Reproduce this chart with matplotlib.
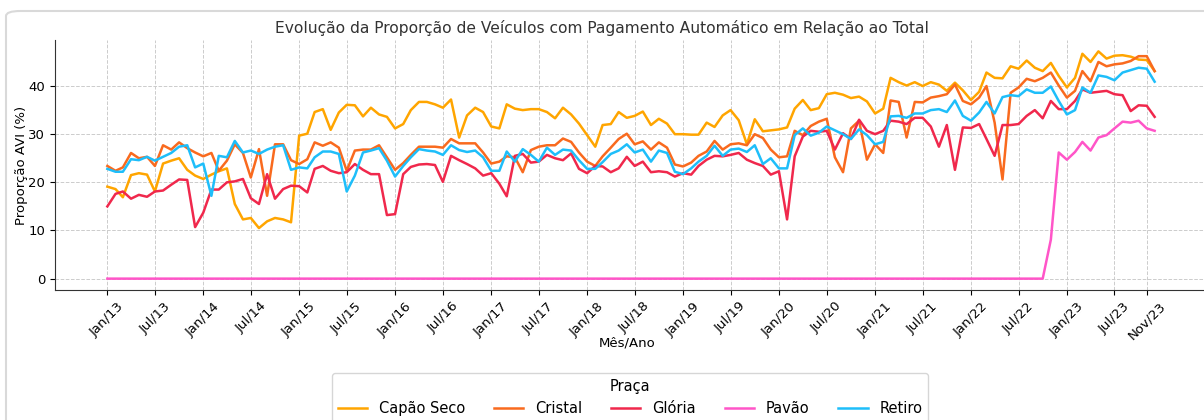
import pandas as pd
import matplotlib
matplotlib.use("Agg")
import matplotlib.pyplot as plt
from matplotlib.patches import FancyBboxPatch

# monthly AVI share (%) per toll plaza, Jan/2013 .. Dec/2023
capao_seco = [
    19.1, 18.6, 16.9, 21.5, 21.9, 21.6, 18.1, 23.9, 24.5, 25.0, 22.6, 21.4,
    20.7, 21.6, 22.3, 22.9, 15.5, 12.3, 12.6, 10.5, 11.9, 12.6, 12.3, 11.7,
    29.7, 30.1, 34.6, 35.2, 30.9, 34.5, 36.1, 36.0, 33.7, 35.5, 34.1, 33.6,
    31.2, 32.1, 35.0, 36.7, 36.7, 36.2, 35.5, 37.2, 29.3, 33.9, 35.5, 34.6,
    31.6, 31.2, 36.2, 35.3, 35.0, 35.2, 35.2, 34.6, 33.3, 35.5, 34.1, 32.2,
    29.8, 27.4, 31.9, 32.1, 34.6, 33.4, 33.8, 34.7, 31.9, 33.2, 32.2, 30.0,
    30.0, 29.9, 29.9, 32.4, 31.5, 33.9, 35.0, 32.9, 27.9, 33.1, 30.6, 30.8,
    31.0, 31.4, 35.3, 37.1, 35.0, 35.4, 38.3, 38.6, 38.2, 37.5, 37.8, 36.8,
    34.3, 35.3, 41.7, 40.8, 40.1, 40.8, 40.0, 40.8, 40.3, 39.0, 40.7, 39.1,
    37.1, 38.8, 42.8, 41.7, 41.6, 44.1, 43.6, 45.3, 43.8, 43.1, 44.8, 42.1,
    39.7, 41.7, 46.7, 45.0, 47.2, 45.7, 46.3, 46.4, 46.1, 45.5, 45.4, 43.1,
]
cristal = [
    23.4, 22.4, 23.1, 26.1, 25.0, 25.3, 23.4, 27.7, 26.8, 28.3, 27.1, 26.2,
    25.4, 26.1, 22.4, 24.5, 27.9, 26.1, 21.0, 26.9, 17.2, 27.9, 27.9, 24.6,
    23.8, 24.8, 28.3, 27.6, 28.3, 27.2, 22.4, 26.6, 26.8, 26.8, 27.7, 25.2,
    22.6, 24.0, 25.7, 27.4, 27.4, 27.4, 27.2, 29.0, 28.1, 28.1, 28.1, 26.2,
    23.9, 24.3, 25.4, 25.2, 22.1, 26.7, 27.4, 27.7, 27.7, 29.1, 28.4, 26.2,
    24.3, 23.4, 25.4, 27.2, 29.0, 30.1, 27.9, 28.5, 26.8, 28.3, 27.2, 23.7,
    23.3, 24.1, 25.5, 26.4, 28.6, 26.8, 27.9, 28.1, 27.7, 30.0, 29.2, 26.8,
    25.2, 25.4, 30.7, 29.8, 31.7, 32.6, 33.2, 25.2, 22.1, 31.2, 32.8, 24.7,
    27.9, 26.1, 37.0, 36.7, 29.3, 36.7, 36.6, 37.6, 37.9, 38.3, 40.3, 36.9,
    36.2, 37.6, 40.0, 32.4, 20.6, 38.6, 39.7, 41.5, 41.0, 41.7, 42.8, 40.1,
    37.6, 39.0, 43.1, 41.0, 45.0, 44.1, 44.5, 44.7, 45.2, 46.2, 46.2, 43.1,
]
gloria = [
    15.0, 17.6, 18.1, 16.6, 17.4, 17.0, 18.1, 18.3, 19.5, 20.6, 20.5, 10.7,
    13.7, 18.5, 18.5, 20.0, 20.2, 20.7, 16.7, 15.5, 21.7, 16.6, 18.6, 19.3,
    19.2, 17.9, 22.8, 23.4, 22.4, 21.9, 22.1, 23.8, 22.6, 21.7, 21.7, 13.2,
    13.4, 21.7, 23.2, 23.7, 23.8, 23.6, 20.1, 25.5, 24.6, 23.8, 22.9, 21.4,
    21.9, 19.7, 17.1, 25.5, 25.9, 24.1, 24.3, 25.7, 25.0, 24.6, 26.0, 22.8,
    21.9, 23.4, 23.3, 22.1, 22.9, 25.3, 23.4, 24.3, 22.1, 22.3, 22.1, 21.2,
    21.9, 21.6, 23.4, 24.7, 25.5, 25.4, 25.7, 26.1, 24.7, 24.0, 23.4, 21.6,
    22.3, 12.3, 25.4, 29.5, 30.7, 30.5, 30.7, 26.8, 30.2, 29.0, 33.0, 30.7,
    30.0, 30.7, 32.8, 32.6, 32.1, 33.4, 33.4, 31.6, 27.4, 31.9, 22.6, 31.4,
    31.3, 32.1, 29.0, 25.5, 31.9, 31.9, 32.1, 33.8, 35.0, 33.3, 36.9, 35.2,
    35.2, 36.9, 39.3, 38.6, 38.8, 39.0, 38.3, 38.1, 34.8, 36.0, 35.9, 33.6,
]
pavao = [0.0] * 118 + [
    8.1, 26.2, 24.7, 26.3, 28.4, 26.6, 29.3, 29.8, 31.2, 32.6, 32.4, 32.8, 31.2, 30.7,
]
retiro = [
    22.8, 22.2, 22.2, 24.8, 24.6, 25.3, 24.5, 25.3, 26.1, 27.4, 27.7, 23.1,
    23.9, 17.2, 25.5, 25.2, 28.6, 26.2, 26.6, 25.9, 26.8, 27.4, 27.7, 22.6,
    23.1, 22.9, 25.2, 26.4, 26.4, 25.9, 18.1, 21.4, 26.2, 26.6, 27.1, 24.5,
    21.2, 23.4, 25.2, 26.9, 26.6, 26.4, 25.7, 27.7, 26.7, 26.3, 26.6, 25.2,
    22.4, 22.4, 26.4, 24.3, 26.9, 25.7, 24.3, 27.2, 25.7, 26.8, 26.6, 24.6,
    22.8, 22.8, 24.2, 25.9, 26.6, 27.9, 26.2, 26.8, 24.3, 26.6, 26.1, 22.2,
    21.7, 22.9, 24.3, 25.5, 27.6, 25.5, 26.8, 27.0, 26.3, 27.7, 23.8, 25.0,
    22.9, 22.9, 29.8, 31.2, 29.7, 30.3, 31.6, 30.8, 30.0, 29.0, 31.0, 29.8,
    27.9, 28.4, 33.7, 33.8, 33.4, 34.3, 34.3, 35.0, 35.2, 34.6, 37.0, 33.8,
    32.8, 34.5, 36.7, 34.3, 37.7, 38.1, 37.9, 39.3, 38.6, 38.6, 39.9, 36.9,
    34.1, 35.0, 39.7, 38.6, 42.2, 41.9, 41.2, 42.8, 43.3, 43.8, 43.6, 40.9,
]

pracas = ["Capão Seco", "Cristal", "Glória", "Pavão", "Retiro"]
cores = ["#FFA500", "#F96A1E", "#F0284C", "#FF55C8", "#1EBEFA"]

meses = pd.date_range("2013-01-01", periods=132, freq="MS")
ticks = [d for d in meses if d.month in (1, 7) and d <= pd.Timestamp("2023-07-01")]
ticks.append(pd.Timestamp("2023-11-01"))


def main():
    fig = plt.figure(figsize=(12.04, 4.2), dpi=100)

    # light frame around the output (screenshot border)
    borda = FancyBboxPatch((6 / 1204, -0.1), 1.1, 1 - 11 / 420 + 0.1,
                           boxstyle="round,pad=0,rounding_size=0.012",
                           transform=fig.transFigure, facecolor="none",
                           edgecolor="#d9d9d9", linewidth=1.5)
    fig.patches.append(borda)

    ax = fig.add_axes([55 / 1204, 1 - 290 / 420, 1152 / 1204, 250 / 420])

    series = [capao_seco, cristal, gloria, pavao, retiro]
    for nome, cor, valores in zip(pracas, cores, series):
        ax.plot(meses, valores, color=cor, linewidth=1.8, label=nome)

    ax.set_xticks(ticks)
    ax.set_xticklabels([d.strftime("%b/%y") for d in ticks], rotation=45, fontsize=9.5)
    ax.tick_params(axis="y", labelsize=9.5)
    ax.set_yticks([0, 10, 20, 30, 40])
    ax.grid(True, linestyle="--", color="#cccccc", linewidth=0.7)
    for lado in ["top", "right"]:
        ax.spines[lado].set_visible(False)
    ax.spines["left"].set_color("#333333")
    ax.spines["bottom"].set_color("#333333")

    fig.text(602 / 1204, 1 - 28 / 420, "Evolução da Proporção de Veículos com Pagamento Automático em Relação ao Total",
             ha="center", va="center", fontsize=11.2, color="#333333")
    fig.text(627 / 1204, 1 - 343 / 420, "Mês/Ano", ha="center", va="center", fontsize=9.5)
    fig.text(22 / 1204, 1 - 165 / 420, "Proporção AVI (%)", ha="center", va="center",
             rotation=90, fontsize=9.5)

    fig.legend(loc="upper center", bbox_to_anchor=(630 / 1204, 1 - 373 / 420), ncol=5,
               title="Praça", fontsize=10.5, title_fontsize=10.5, frameon=True,
               borderaxespad=0)

    fig.savefig("out.png", dpi=100)


if __name__ == "__main__":
    main()
